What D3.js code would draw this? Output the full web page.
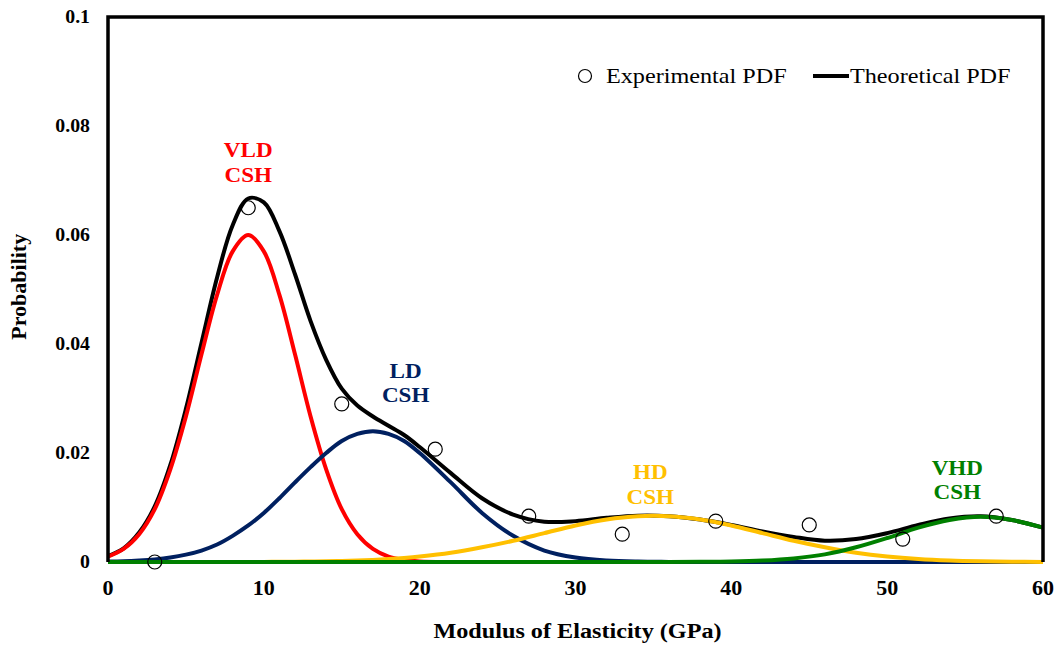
<!DOCTYPE html>
<html>
<head>
<meta charset="utf-8">
<script src="https://cdn.jsdelivr.net/npm/d3@7"></script>
<style>
  body { margin: 0; background: #fff; }
</style>
</head>
<body>
<script>
// Margins for the plot frame
var margin = { top: 17, right: 17, bottom: 84, left: 108 };
var width = 1060 - margin.left - margin.right,
  height = 646 - margin.top - margin.bottom;
// the original picture is a little stretched sideways
var stretch = 1.1;

// Sample positions (GPa) for the fitted curves
var modulus = [
  0, 1, 2, 3, 4, 5, 6, 7, 8, 9, 10, 11, 12, 13, 14, 15, 16, 17, 18, 19, 20,
  22, 24, 26, 28, 30, 32, 34, 36, 38, 40, 42, 44, 46, 48, 50, 52, 54, 56, 58, 60,
];
// Component PDFs
var vldCsh = [
  0.001, 0.0024, 0.0051, 0.0097, 0.017, 0.0267, 0.0381, 0.049, 0.057, 0.06, 0.057,
  0.049, 0.0381, 0.0267, 0.017, 0.0097, 0.0051, 0.0024, 0.001, 0.0004, 0.0001,
  0, 0, 0, 0, 0, 0, 0, 0, 0, 0, 0, 0, 0, 0, 0, 0, 0, 0, 0, 0,
];
var ldCsh = [
  0.0001, 0.00014, 0.00027, 0.00048, 0.00082, 0.00135, 0.0021, 0.0032, 0.0048,
  0.0067, 0.009, 0.0117, 0.0146, 0.0174, 0.02, 0.0222, 0.0235, 0.024, 0.0235,
  0.0222, 0.02, 0.0146, 0.009, 0.0048, 0.0021, 0.00082, 0.00027, 0.00007,
  0.00002, 0, 0, 0, 0, 0, 0, 0, 0, 0, 0, 0, 0,
];
var hdCsh = [
  0, 0, 0, 0, 0, 0, 0, 0, 0, 0, 0.00002, 0.00004, 0.00006, 0.00008, 0.00013,
  0.00019, 0.00027, 0.00039, 0.00054, 0.00074, 0.001, 0.0017, 0.0027, 0.0039,
  0.0053, 0.0067, 0.0078, 0.0084, 0.0084, 0.0078, 0.0067, 0.0053, 0.0039,
  0.0027, 0.0017, 0.001, 0.00054, 0.00027, 0.00013, 0.00006, 0.00002,
];
var vhdCsh = [
  0, 0, 0, 0, 0, 0, 0, 0, 0, 0, 0, 0, 0, 0, 0, 0, 0, 0, 0, 0, 0,
  0, 0, 0, 0, 0, 0, 0, 0.00001, 0.00003, 0.00009, 0.00027, 0.00066, 0.0014,
  0.0027, 0.0044, 0.0063, 0.0077, 0.0083, 0.0077, 0.0063,
];
var theoretical = [
  0.0011, 0.0025, 0.0054, 0.0102, 0.0178, 0.0281, 0.0402, 0.0522, 0.0618, 0.0667,
  0.066, 0.0607, 0.0528, 0.0442, 0.0371, 0.0318, 0.0287, 0.0267, 0.025, 0.0233,
  0.0211, 0.0163, 0.0117, 0.0087, 0.0074, 0.0075, 0.0081, 0.0085, 0.0084,
  0.0078, 0.0068, 0.0056, 0.0046, 0.0039, 0.0042, 0.0053, 0.0068, 0.008,
  0.0084, 0.0077, 0.0063,
];
// Experimental histogram PDF
var expX = [3, 9, 15, 21, 27, 33, 39, 45, 51, 57];
var expY = [0, 0.065, 0.029, 0.0207, 0.0084, 0.0051, 0.0075, 0.0068, 0.0042, 0.0084];

var xTicks = [0, 10, 20, 30, 40, 50, 60];
var yTicks = [0, 0.02, 0.04, 0.06, 0.08, 0.1];

var components = [
  { name: "VLD", values: vldCsh, color: "#ff0000", label: [9, 0.0743] },
  { name: "LD", values: ldCsh, color: "#002060", label: [19.1, 0.0338] },
  { name: "HD", values: hdCsh, color: "#ffc000", label: [34.8, 0.0152] },
  { name: "VHD", values: vhdCsh, color: "#008000", label: [54.5, 0.016] },
];

var svg = d3
  .select("body")
  .append("svg")
  .attr("width", width + margin.left + margin.right)
  .attr("height", height + margin.top + margin.bottom)
  .attr("font-family", "Liberation Serif")
  .append("g")
  .attr("transform", `translate(${margin.left},${margin.top})`);

var x = d3.scaleLinear().domain([0, 60]).range([0, width]);
var y = d3.scaleLinear().domain([0, 0.1]).range([height, 0]);

// place a text at (px, py) with the sideways stretch
function place(px, py) {
  return `translate(${px},${py}) scale(${stretch},1)`;
}

// Tick labels
svg
  .selectAll(".xt")
  .data(xTicks)
  .enter()
  .append("text")
  .attr("transform", (d) => place(x(d), height + 33))
  .attr("text-anchor", "middle")
  .attr("font-size", 20)
  .attr("font-weight", "bold")
  .text((d) => d);

svg
  .selectAll(".yt")
  .data(yTicks)
  .enter()
  .append("text")
  .attr("transform", (d) => place(-18, y(d) + 6))
  .attr("text-anchor", "end")
  .attr("font-size", 18)
  .attr("font-weight", "bold")
  .text((d) => d);

// Axis titles
svg
  .append("text")
  .attr("transform", place(x(30) + 2, height + 76))
  .attr("text-anchor", "middle")
  .attr("font-size", 22)
  .attr("font-weight", "bold")
  .text("Modulus of Elasticity (GPa)");

svg
  .append("text")
  .attr("transform", `translate(-82,${y(0.0505)}) rotate(-90)`)
  .attr("text-anchor", "middle")
  .attr("font-size", 22)
  .attr("font-weight", "bold")
  .text("Probability");

// Curves
var line = d3
  .line()
  .x((d) => x(d[0]))
  .y((d) => y(d[1]))
  .curve(d3.curveCatmullRom.alpha(0.5));

svg
  .append("path")
  .attr("d", line(d3.zip(modulus, theoretical)))
  .attr("fill", "none")
  .attr("stroke", "#000")
  .attr("stroke-width", 4);

components.forEach(function (c) {
  svg
    .append("path")
    .attr("d", line(d3.zip(modulus, c.values)))
    .attr("fill", "none")
    .attr("stroke", c.color)
    .attr("stroke-width", 4);

  var t = svg
    .append("text")
    .attr("transform", place(x(c.label[0]), y(c.label[1])))
    .attr("text-anchor", "middle")
    .attr("font-size", 21)
    .attr("font-weight", "bold")
    .attr("fill", c.color);
  t.append("tspan").attr("x", 0).text(c.name);
  t.append("tspan").attr("x", 0).attr("dy", 24.5).text("CSH");
});

// Experimental points
svg
  .selectAll(".pt")
  .data(d3.zip(expX, expY))
  .enter()
  .append("circle")
  .attr("cx", (d) => x(d[0]))
  .attr("cy", (d) => y(d[1]))
  .attr("r", 7)
  .attr("fill", "none")
  .attr("stroke", "#000")
  .attr("stroke-width", 1.2);

// Frame (left, top, right)
svg
  .append("path")
  .attr("d", `M0,${height}V0H${width}V${height}`)
  .attr("fill", "none")
  .attr("stroke", "#000")
  .attr("stroke-width", 3.5);

// Legend
var lg = svg.append("g").attr("transform", "translate(477,59)");
lg.append("circle").attr("cx", 0).attr("cy", 0).attr("r", 6.5)
  .attr("fill", "none").attr("stroke", "#000").attr("stroke-width", 1.2);
lg.append("text").attr("transform", place(21, 7)).attr("font-size", 22)
  .text("Experimental PDF");
lg.append("line").attr("x1", 228).attr("x2", 264).attr("y1", 0).attr("y2", 0)
  .attr("stroke", "#000").attr("stroke-width", 4);
lg.append("text").attr("transform", place(265, 7)).attr("font-size", 22)
  .text("Theoretical PDF");
</script>
</body>
</html>
